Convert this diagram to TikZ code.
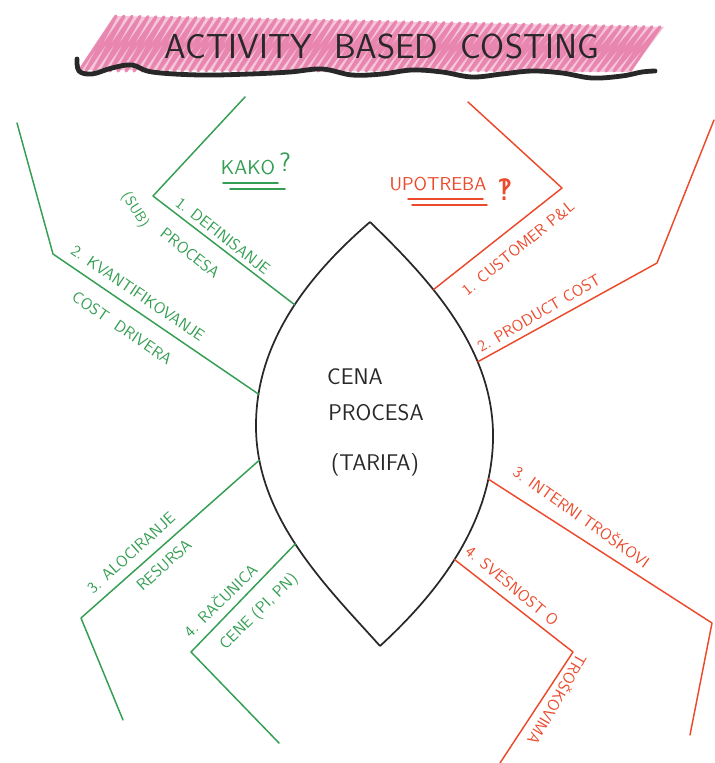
\documentclass[tikz,border=0pt]{standalone}
\usepackage{fontspec}
\newfontfamily\symfont{DejaVu Sans}
\definecolor{gr}{RGB}{52,158,82}
\definecolor{rd}{RGB}{236,74,44}
\definecolor{pk}{RGB}{232,128,172}
\definecolor{ink}{RGB}{40,40,40}
\begin{document}
\begin{tikzpicture}[x=0.75pt,y=-0.75pt,
  gline/.style={draw=gr, line width=1.1pt, line join=round, line cap=round},
  rline/.style={draw=rd, line width=1.1pt, line join=round, line cap=round},
  lensline/.style={draw=ink, line width=1.3pt},
  glab/.style={text=gr, inner sep=0pt, font=\sffamily\fontsize{12}{12}\selectfont},
  rlab/.style={text=rd, inner sep=0pt, font=\sffamily\fontsize{12}{12}\selectfont},
  lenstext/.style={text=ink, inner sep=0pt, font=\sffamily\fontsize{17}{17}\selectfont},
]
\useasboundingbox (0,0) rectangle (714,763);
\fill[white] (0,0) rectangle (714,763);

% ---- title scribble
\fill[pk!45] (80,70) -- (116,16) -- (664,27) -- (630,72) -- cycle;
\draw[pk, line width=2.4pt, line join=round, opacity=0.9] (80,70)
  \foreach \i in {0,...,68} { -- ({116+8*\i}, {16+0.02*8*\i}) -- ({86+8*\i},{71}) };
\node[text=ink, inner sep=0pt, font=\sffamily\fontsize{26}{26}\selectfont] (title) at (382,46) {ACTIVITY \ BASED \ COSTING};
\draw[ink, line width=3.6pt, line cap=round, line join=round]
  plot[smooth, tension=0.6] coordinates {(77,59) (79,71) (92,74) (112,68) (132,65) (152,72) (200,75) (250,74) (290,72) (322,69) (352,75) (382,74) (412,70) (442,72) (472,77) (502,74) (532,71) (562,73) (592,78) (622,76) (642,72) (655,71)};

% ---- lens
\coordinate (ltop) at (370,222);
\coordinate (lbot) at (380,646);
\coordinate (lleft) at (256,428);
\coordinate (lright) at (493,440);
\draw[lensline] (ltop) .. controls (305,278) and (255,345) .. (lleft)
  coordinate[pos=0.45] (A2) coordinate[pos=0.86] (B2);
\draw[lensline] (lleft) .. controls (257,520) and (330,590) .. (lbot)
  coordinate[pos=0.12] (C2) coordinate[pos=0.47] (D2);
\draw[lensline] (ltop) .. controls (430,280) and (495,350) .. (lright)
  coordinate[pos=0.36] (E2) coordinate[pos=0.69] (F2);
\draw[lensline] (lright) .. controls (491,530) and (430,600) .. (lbot)
  coordinate[pos=0.15] (G2) coordinate[pos=0.5] (H2);
\node[lenstext] (cena) at (355,377) {CENA};
\node[lenstext] (procesa) at (376,413) {PROCESA};
\node[lenstext] (tarifa) at (375,465) {(TARIFA)};

% ---- green branches
\coordinate (A0) at (245,97);  \coordinate (A1) at (153,196);
\coordinate (B0) at (17,123);  \coordinate (B1) at (53,254);
\coordinate (C0) at (123,720); \coordinate (C1) at (81,618);
\coordinate (D0) at (279,743); \coordinate (D1) at (191,652);
\draw[gline] (A0) -- (A1) -- (A2);
\draw[gline] (B0) -- (B1) -- (B2);
\draw[gline] (C2) -- (C1) -- (C0);
\draw[gline] (D2) -- (D1) -- (D0);

\node[glab, rotate=-38] (defin) at (223,236) {1. DEFINISANJE};
\node[glab, rotate=-38] (procA) at (190,253) {PROCESA};
\node[glab, rotate=-58, font=\sffamily\fontsize{11}{11}\selectfont] (sub) at (135,210) {(SUB)};
\node[glab, rotate=-34.3] (kvant) at (138,293) {2. KVANTIFIKOVANJE};
\node[glab, rotate=-34.3] (cost) at (122,328) {COST \ DRIVERA};
\node[glab, rotate=42.1] (aloc) at (131,553) {3. ALOCIRANJE};
\node[glab, rotate=42.1] (resu) at (164,565) {RESURSA};
\node[glab, rotate=44.5] (racu) at (220,600) {4. RAČUNICA};
\node[glab, rotate=44.5] (cene) at (259,612) {CENE (PI, PN)};

\node[glab, font=\sffamily\fontsize{15}{15}\selectfont] (kako) at (248,168) {KAKO};
\node[glab, font=\sffamily\fontsize{20}{20}\selectfont] (kakoq) at (285,162) {?};
\draw[gr, line width=1.2pt, line cap=round] (223,183) -- (278,183);
\draw[gr, line width=1.2pt, line cap=round] (230,189) -- (285,189);

% ---- red branches
\coordinate (E0) at (468,102); \coordinate (E1) at (562,188);
\coordinate (F0) at (714,120); \coordinate (F1) at (657,263);
\coordinate (G0) at (690,735); \coordinate (G1) at (712,623);
\coordinate (H0) at (500,763); \coordinate (H1) at (573,652);
\draw[rline] (E0) -- (E1) -- (E2);
\draw[rline] (F0) -- (F1) -- (F2);
\draw[rline] (G2) -- (G1) -- (G0);
\draw[rline] (H2) -- (H1) -- (H0);

\node[rlab, rotate=39] (cust) at (518,248) {1. CUSTOMER P\&L};
\node[rlab, rotate=30.2] (prod) at (539,313) {2. PRODUCT COST};
\node[rlab, rotate=-35.3] (intern) at (582,516) {3. INTERNI TROŠKOVI};
\node[rlab, rotate=-39.7] (sves) at (512,586) {4. SVESNOST O};
\node[rlab, rotate=-120] (trosk) at (558,700) {TROŠKOVIMA};

\node[rlab, font=\sffamily\fontsize{14}{14}\selectfont] (upo) at (438,184) {UPOTREBA};
\node[rlab, font=\symfont\fontsize{22}{22}\selectfont] (upoq) at (505,190) {‽};
\draw[rd, line width=1.1pt, line cap=round] (408,199) -- (483,199);
\draw[rd, line width=1.1pt, line cap=round] (412,205) -- (487,205);
\end{tikzpicture}
\end{document}
